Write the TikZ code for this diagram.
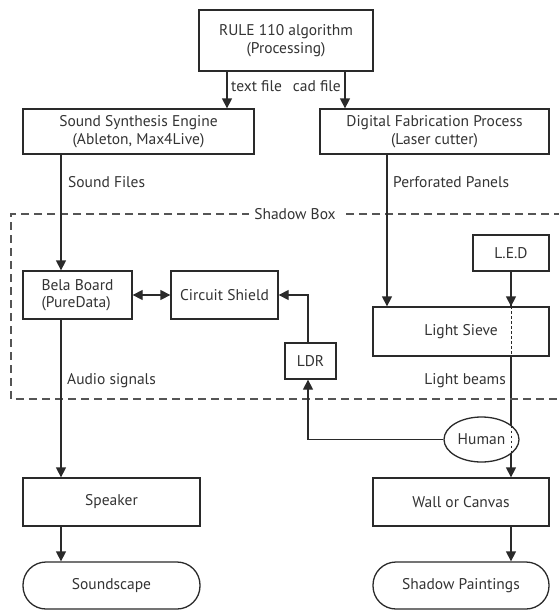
\documentclass[tikz,border=0pt]{standalone}
\usepackage{fontspec}
\setmainfont{PT Sans}
\usetikzlibrary{arrows.meta,shapes.geometric,backgrounds,intersections}

\definecolor{ink}{HTML}{2A2A2A}
\definecolor{txt}{HTML}{333333}
\definecolor{boxline}{HTML}{555555}

\tikzset{
  every node/.style={font=\fontsize{15.5}{17.5}\selectfont, text=txt},
  box/.style={draw=ink, line width=1.3pt, fill=white, align=center, inner sep=0pt},
  term/.style={box, rounded corners=23pt},
  oval/.style={draw=ink, line width=1.3pt, fill=white, ellipse, inner sep=0pt},
  wire/.style={draw=ink, line width=1.3pt},
  arr/.style={wire, -{Triangle[width=10pt,length=10pt]}},
  biarr/.style={wire, {Triangle[width=10pt,length=10pt]}-{Triangle[width=10pt,length=10pt]}},
  hidden/.style={draw=ink, line width=1pt, dash pattern=on 2.5pt off 2.5pt},
  frame/.style={draw=boxline, line width=1.3pt, dash pattern=on 8pt off 5pt},
  lbl/.style={inner sep=0pt}
}

\begin{document}
\begin{tikzpicture}[x=1pt, y=-1pt]
\useasboundingbox (0,0) rectangle (559,610);

% shadow box enclosure (open on the right)
\draw[frame] (562,214) -- (11,214) -- (11,399) -- (562,399);
\node[lbl, fill=white, inner xsep=5pt, inner ysep=2pt] (shadowlbl) at (295,214) {Shadow Box};

% column positions
\coordinate (colA) at (61,0);
\coordinate (colT) at (227,0);
\coordinate (colC) at (345,0);
\coordinate (colP) at (387,0);
\coordinate (colL) at (308,0);

% processing chain
\node[box, minimum width=174pt, minimum height=61pt] (rule) at (286,40.5) {RULE 110 algorithm\\(Processing)};
\node[box, minimum width=231pt, minimum height=45pt] (synth) at (138.5,131.5) {Sound Synthesis Engine\\(Ableton, Max4Live)};
\node[box, minimum width=229pt, minimum height=45pt] (fab) at (434.5,131.5) {Digital Fabrication Process\\(Laser cutter)};

% inside the shadow box
\node[box, minimum width=109pt, minimum height=48pt, align=left] (bela) at (77.5,295) {Bela Board\\(PureData)};
\node[box, minimum width=107pt, minimum height=48pt] (shield) at (224.5,295) {Circuit Shield};
\node[box, minimum width=51pt, minimum height=36pt] (ldr) at (310.5,361) {LDR};
\node[box, minimum width=76pt, minimum height=36pt] (led) at (511,253) {L.E.D};
\node[box, minimum width=176pt, minimum height=49pt] (sieve) at (461,331.5) {Light Sieve};

% outputs
\node[oval, name path=humanpath, minimum width=75pt, minimum height=45pt] (human) at (481.5,439.5) {Human};
\node[box, minimum width=177pt, minimum height=48pt] (speaker) at (111.5,502) {Speaker};
\node[box, minimum width=176pt, minimum height=48pt] (wall) at (461,502) {Wall or Canvas};
\node[term, minimum width=177pt, minimum height=47pt] (soundscape) at (111.5,585.5) {Soundscape};
\node[term, minimum width=176pt, minimum height=47pt] (paintings) at (461,585.5) {Shadow Paintings};

% light beam runs behind the sieve and the human
\begin{scope}[on background layer]
  \draw[arr] (led.south) -- (led.south |- wall.north);
\end{scope}
\path[name path=beampath] (led.south) -- (led.south |- wall.north);
\path[name intersections={of=humanpath and beampath, by={hA,hB}}];
\draw[hidden] (led.south |- sieve.north) -- (led.south |- sieve.south);
\draw[hidden] (hA) -- (hB);
\draw[arr] (led.south) -- (led.south |- sieve.north);

% connectors
\draw[arr] (rule.south -| colT) -- (synth.north -| colT);
\draw[arr] (rule.south -| colC) -- (fab.north -| colC);
\draw[arr] (synth.south -| colA) -- (bela.north -| colA);
\draw[arr] (fab.south -| colP) -- (sieve.north -| colP);
\draw[biarr] (bela.east) -- (shield.west);
\draw[arr] (ldr.north -| colL) |- (shield.east);
\draw[arr] (human.west) -| (ldr.south -| colL);
\draw[arr] (bela.south -| colA) -- (speaker.north -| colA);
\draw[arr] (speaker.south -| colA) -- (soundscape.north -| colA);
\draw[arr] (wall.south -| led.south) -- (paintings.north -| led.south);

% connector labels
\node[lbl, anchor=west] (ltext) at (231,86) {text file};
\node[lbl, anchor=east] (lcad) at (341,86) {cad file};
\node[lbl, anchor=west] (lsound) at (68,182) {Sound Files};
\node[lbl, anchor=west] (lpanels) at (393,182) {Perforated Panels};
\node[lbl, anchor=west] (laudio) at (67,381) {Audio signals};
\node[lbl, anchor=east] (lbeams) at (506,381) {Light beams};
\end{tikzpicture}
\end{document}
